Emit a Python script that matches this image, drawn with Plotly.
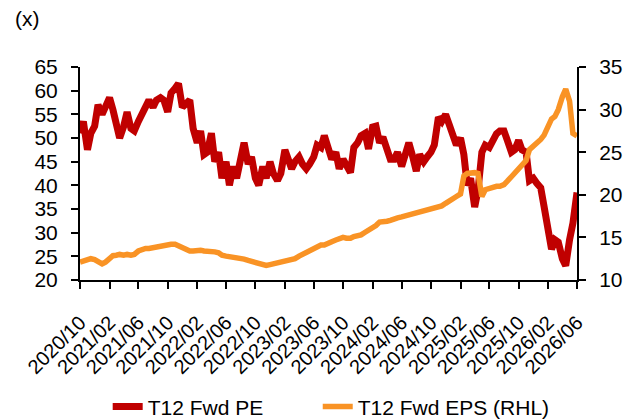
import pandas as pd
import plotly.graph_objects as go

# Semi-monthly observation dates (1st and 15th of each month)
dates = pd.date_range("2020-10-01", "2026-06-01", freq="SMS")

# T12 Fwd PE (x), left axis
pe = [51, 53.5, 47.5, 51, 52.5, 57, 55, 57, 58.5, 56,
      53, 50, 52.5, 55.5, 52, 51.5, 53.5, 55, 56, 58,
      56.5, 58, 58.5, 58, 55.5, 59.5, 60.5, 61.5, 56.5, 57,
      58, 52, 49, 51.5, 46.5, 47, 51, 45, 47, 41.5,
      45, 40, 44, 41.5, 46, 49, 44.5, 46, 41.5, 40,
      44, 41.5, 45, 42.5, 41, 42.5, 47.5, 45.5, 43.5, 45,
      46, 44.5, 43.5, 44.5, 46, 48.5, 48, 50.5, 47.5, 45.5,
      47, 43.5, 45.5, 44.5, 42.7, 48, 49, 50.5, 51, 47.7,
      52.3, 52.5, 49, 50.2, 48, 45.5, 45.5, 47, 44, 46.5,
      49, 46.5, 43, 46.5, 45, 46, 47, 48.5, 54.4, 53.5,
      55, 53, 50.5, 48.5, 50, 46.5, 40, 41.5, 35.4, 39,
      47, 48.5, 48, 49.5, 50.9, 51.5, 51.5, 49.5, 47, 47.5,
      49.5, 47.5, 47, 41, 41.5, 40.5, 39.5, 35.5, 30.5, 26.5,
      28.5, 28, 24.5, 23, 28.5, 32, 38.5]

# T12 Fwd EPS, right axis
eps = [12.1, 12.2, 12.4, 12.5, 12.4, 12.1, 11.9, 12.1, 12.6, 12.85,
       12.9, 13.0, 12.9, 13.0, 12.9, 13.0, 13.4, 13.6, 13.7, 13.7,
       13.8, 13.9, 14.0, 14.15, 14.1, 14.2, 14.2, 14.0, 13.8, 13.5,
       13.4, 13.4, 13.5, 13.5, 13.4, 13.4, 13.3, 13.3, 13.2, 12.9,
       12.8, 12.75, 12.7, 12.6, 12.5, 12.45, 12.3, 12.2, 12.0, 11.9,
       11.8, 11.7, 11.8, 11.9, 12.0, 12.1, 12.2, 12.3, 12.3, 12.5,
       12.8, 13.0, 13.2, 13.5, 13.7, 14.0, 14.1, 14.1, 14.4, 14.5,
       14.7, 14.9, 15.0, 14.9, 14.9, 15.1, 15.2, 15.3, 15.6, 15.8,
       16.1, 16.4, 16.8, 16.8, 16.9, 17.0, 17.2, 17.3, 17.4, 17.5,
       17.6, 17.7, 17.8, 18.0, 18.1, 18.2, 18.3, 18.4, 18.5, 18.7,
       19.0, 19.2, 19.5, 19.8, 20.1, 22.2, 22.5, 22.6, 22.6, 22.5,
       19.8, 20.6, 20.8, 20.9, 21.0, 21.0, 21.2, 21.6, 22.1, 22.5,
       22.9, 23.3, 24.0, 25.3, 25.7, 26.0, 26.5, 27.0, 28.0, 28.9,
       29.2, 30.0, 31.5, 32.4, 31.0, 27.2, 26.9]

tick_dates = ["2020-10-01", "2021-02-01", "2021-06-01", "2021-10-01",
              "2022-02-01", "2022-06-01", "2022-10-01", "2023-02-01",
              "2023-06-01", "2023-10-01", "2024-02-01", "2024-06-01",
              "2024-10-01", "2025-02-01", "2025-06-01", "2025-10-01",
              "2026-02-01", "2026-06-01"]
tick_labels = [d[:4] + "/" + d[5:7] for d in tick_dates]

FONT = "Liberation Sans, Arial, sans-serif"
FS = 21
RED = "#C00000"
ORANGE = "#F99325"

fig = go.Figure()
fig.add_trace(go.Scatter(x=dates, y=pe, name="T12 Fwd PE", mode="lines",
                         line=dict(color=RED, width=7), yaxis="y",
                         legend="legend"))
fig.add_trace(go.Scatter(x=dates, y=eps, name="T12 Fwd EPS (RHL)", mode="lines",
                         line=dict(color=ORANGE, width=5.5), yaxis="y2",
                         legend="legend2"))

axis_common = dict(showgrid=False, zeroline=False, showline=True,
                   linecolor="black", linewidth=2, ticks="outside",
                   ticklen=7, tickwidth=2, tickcolor="black",
                   automargin=False)

legend_common = dict(orientation="h", xref="container", yref="container",
                     xanchor="left", yanchor="middle", y=0.032,
                     font=dict(family=FONT, size=FS, color="black"),
                     bgcolor="rgba(0,0,0,0)")

# page body adds an 8px offset, so the figure is 8px smaller than the window
fig.update_layout(
    width=627, height=412,
    margin=dict(l=72, r=58, t=59, b=140, autoexpand=False),
    paper_bgcolor="white", plot_bgcolor="white",
    font=dict(family=FONT, size=FS, color="black"),
    xaxis=dict(type="date", range=["2020-10-01", "2026-06-01"],
               tickvals=tick_dates, ticktext=tick_labels, tickangle=-45,
               ticklabelstandoff=14,
               tickfont=dict(family=FONT, size=20, color="black"),
               **axis_common),
    yaxis=dict(range=[20, 65], dtick=5, tick0=20, ticklabelstandoff=9,
               tickfont=dict(family=FONT, size=FS, color="black"),
               **axis_common),
    yaxis2=dict(range=[10, 35], dtick=5, tick0=10, overlaying="y",
                side="right", ticklabelstandoff=9,
                tickfont=dict(family=FONT, size=FS, color="black"),
                **axis_common),
    legend=dict(x=0.159, **legend_common),
    legend2=dict(x=0.494, **legend_common),
    showlegend=True,
    annotations=[dict(text="(x)", xref="paper", yref="paper",
                      x=-0.135, y=1.228, xanchor="left", yanchor="middle",
                      showarrow=False, font=dict(family=FONT, size=FS, color="black"))],
)

fig.write_html("out.html")
